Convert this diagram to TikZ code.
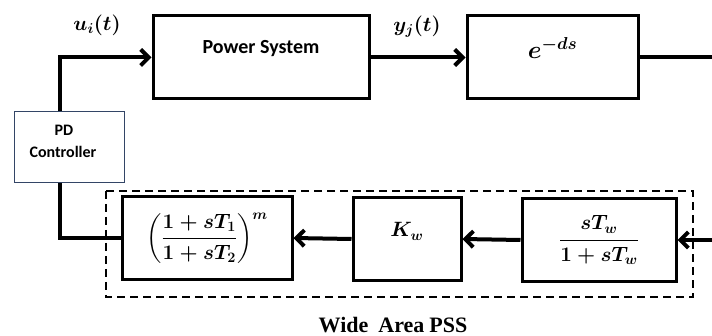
\documentclass[tikz,border=0pt]{standalone}
\usepackage{amsmath}
\usepackage{fontspec}
\setsansfont{Carlito}
\newfontfamily\capfont{Liberation Serif}
\usetikzlibrary{arrows.meta,calc}
\definecolor{PDClr}{rgb}{0.2,0.27,0.4}

\begin{document}
\begin{tikzpicture}[x=1pt,y=-1pt,
  blk/.style={draw,line width=3pt,minimum height=83pt,inner sep=0pt},
  sig/.style={line width=4pt},
  arr/.style={sig,-{Straight Barb[length=8pt,width=16pt]}},
  mth/.style={font=\fontsize{20}{24}\selectfont\boldmath},
  lbl/.style={font=\fontsize{20}{24}\selectfont\boldmath}]
\useasboundingbox (0,0) rectangle (712,336);

\node[blk,minimum width=216pt,font=\fontsize{20}{24}\selectfont\sffamily\bfseries,
  text height=13pt,text depth=20pt] (ps) at (261,57.5) {Power System};
\node[blk,minimum width=171pt,font=\fontsize{25}{30}\selectfont\boldmath,
  text height=18pt,text depth=15pt] (es) at (552.5,57.5) {$e^{-ds}$};
\node[draw=PDClr,line width=1pt,minimum width=110pt,minimum height=71pt,
  align=center,font=\fontsize{16}{22}\selectfont\sffamily\bfseries,
  text depth=12pt] (pd) at (69,147.5) {PD\hspace*{10pt}\\Controller\hspace*{12pt}};

\node[blk,minimum width=170pt,mth] (ll) at (207,238)
  {$\left(\dfrac{1+sT_1}{1+sT_2}\right)^{m}$};
\node[blk,minimum width=108pt,font=\fontsize{21}{25}\selectfont\boldmath,
  text height=14pt,text depth=18pt] (kw) at (407,239) {$K_w$};
\node[blk,minimum width=154pt,mth] (stw) at (599,240) {$\dfrac{sT_w}{1+sT_w}$};

\draw[line width=1.8pt,dash pattern=on 8pt off 5pt] (106,191) rectangle (693,297);
\node[font=\fontsize{22}{26}\selectfont\capfont\bfseries] (wa) at (393,325)
  {Wide\hspace{10pt}Area\hspace{5pt}PSS};

\node[lbl] (ui) at (97,25) {$u_i(t)$};
\node[lbl] (yj) at (417,27) {$y_j(t)$};

\coordinate (out) at (712,56);
\coordinate (in) at (712,239);

\draw[arr] ([xshift=-9pt]pd.north) |- (ps.west);
\draw[arr] (ps.east) -- (es.west);
\draw[sig] (es.east) -- (es.east -| out);
\draw[arr] (stw.east -| in) -- (stw.east);
\draw[arr] (stw.west) -- (kw.east);
\draw[arr] (kw.west) -- (ll.east);
\draw[sig] (ll.west) -| ([xshift=-9pt]pd.south);

\end{tikzpicture}
\end{document}
